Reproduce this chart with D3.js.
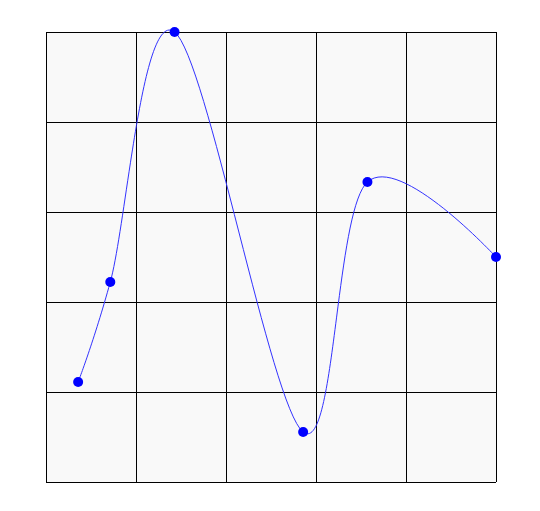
<!DOCTYPE html>
<html><head><meta charset="utf-8">
<script src="https://cdn.jsdelivr.net/npm/d3@7"></script>
<style>html,body{margin:0;padding:0;background:#fff;}svg{display:block;}</style>
</head><body>
<svg id="chart" width="540" height="511"></svg>
<script>
const xValues = [0.5, 1, 2, 4, 5, 7];
const yValues = [2, 4, 9, 1, 6, 4.5];
const xDomain = [0, 7];
const yDomain = [0, 9];
const gridCount = 5;

const svg = d3.select("#chart");
const m = {left: 46, top: 32, right: 44, bottom: 29};
const w = 540 - m.left - m.right, h = 511 - m.top - m.bottom;
const x = d3.scaleLinear().domain(xDomain).range([0, w]);
const y = d3.scaleLinear().domain(yDomain).range([h, 0]);
const g = svg.append("g").attr("transform", `translate(${m.left},${m.top})`);
g.append("rect").attr("width", w).attr("height", h).attr("fill", "#f9f9f9");
const gx = d3.range(gridCount + 1).map(i => xDomain[0] + (xDomain[1]-xDomain[0]) * i / gridCount);
const gy = d3.range(gridCount + 1).map(i => yDomain[0] + (yDomain[1]-yDomain[0]) * i / gridCount);
g.selectAll("line.vx").data(gx).join("line")
  .attr("x1", d => Math.round(x(d)) + 0.5).attr("x2", d => Math.round(x(d)) + 0.5)
  .attr("y1", 0).attr("y2", h).attr("stroke", "#000").attr("stroke-width", 1);
g.selectAll("line.hy").data(gy).join("line")
  .attr("y1", d => Math.round(y(d)) + 0.5).attr("y2", d => Math.round(y(d)) + 0.5)
  .attr("x1", 0).attr("x2", w).attr("stroke", "#000").attr("stroke-width", 1);
const data = xValues.map((v, i) => [v, yValues[i]]);
const line = d3.line().x(d => x(d[0])).y(d => y(d[1])).curve(d3.curveCardinal);
g.append("path").attr("d", line(data)).attr("fill", "none").attr("stroke", "#3333ff").attr("stroke-width", 1);
g.selectAll("circle").data(data).join("circle")
  .attr("cx", d => x(d[0])).attr("cy", d => y(d[1])).attr("r", 5).attr("fill", "#0000ff");
</script>
</body></html>
